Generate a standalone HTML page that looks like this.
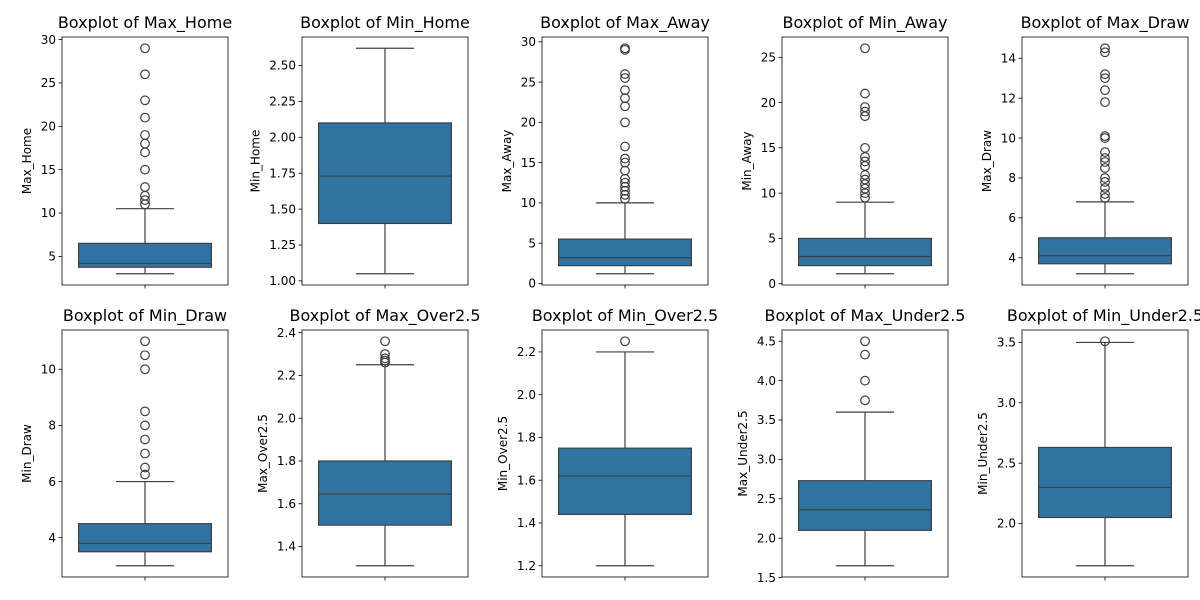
<!DOCTYPE html>
<html><head><meta charset="utf-8">
<style>
body{margin:0;background:#fff;}
svg{display:block;font-family:"DejaVu Sans","Liberation Sans",sans-serif;}
</style></head>
<body>
<svg id="chart" width="1200" height="600" viewBox="0 0 1200 600"></svg>
<script>
const names = ["Max_Home","Min_Home","Max_Away","Min_Away","Max_Draw","Min_Draw","Max_Over2.5","Min_Over2.5","Max_Under2.5","Min_Under2.5"];
const whiskerLow = [3,1.05,1.2,1.1,3.2,3,1.31,1.2,1.65,1.65];
const q1 = [3.75,1.4,2.2,2,3.7,3.5,1.5,1.44,2.1,2.05];
const medians = [4.2,1.73,3.2,3,4.1,3.8,1.645,1.62,2.36,2.3];
const q3 = [6.5,2.1,5.5,5,5,4.5,1.8,1.75,2.73,2.63];
const whiskerHigh = [10.5,2.62,10,9,6.8,6,2.25,2.2,3.6,3.5];
const outliers = [
 [11,11.5,12,13,15,17,18,19,21,23,26,29],
 [],
 [10.5,11,11.5,12,12.5,13,14,15,15.5,17,20,22,23,24,25.5,26,29,29.2],
 [9.5,10,10.5,11,11.5,12,13,13.5,14,15,18.5,19,19.5,21,26],
 [7,7.2,7.5,7.8,8,8.5,8.8,9,9.3,10,10.1,11.8,12.4,13,13.2,14.3,14.5],
 [6.25,6.5,7,7.5,8,8.5,10,10.5,11],
 [2.26,2.27,2.28,2.3,2.36],
 [2.25],
 [3.75,4.0,4.33,4.5],
 [3.51]
];
const ticks = [
 ["5","10","15","20","25","30"],
 ["1.00","1.25","1.50","1.75","2.00","2.25","2.50"],
 ["0","5","10","15","20","25","30"],
 ["0","5","10","15","20","25"],
 ["4","6","8","10","12","14"],
 ["4","6","8","10"],
 ["1.4","1.6","1.8","2.0","2.2","2.4"],
 ["1.2","1.4","1.6","1.8","2.0","2.2"],
 ["1.5","2.0","2.5","3.0","3.5","4.0","4.5"],
 ["2.0","2.5","3.0","3.5"]
];
const NS="http://www.w3.org/2000/svg";
const svg=document.getElementById('chart');
function mk(tag,attrs,parent){const e=document.createElementNS(NS,tag);for(const k in attrs)e.setAttribute(k,attrs[k]);(parent||svg).appendChild(e);return e;}
const EDGE="#3f3f3f";
function tw(s){let w=0;for(const ch of s)w+=(ch==='.'?3.8:7.6);return w;}
names.forEach((nm,i)=>{
  const col=i%5,row=Math.floor(i/5);
  const L=62+col*240,W=166,T=row?330:37,B=row?577:285;
  const all=[whiskerLow[i],whiskerHigh[i]].concat(outliers[i]);
  const lo=Math.min(...all),hi=Math.max(...all),pad=(hi-lo)*0.05;
  const dmin=lo-pad,dmax=hi+pad;
  const y=v=>B-(v-dmin)/(dmax-dmin)*(B-T);
  const g=mk('g',{});
  
  
  const cx=L+W/2;
  const t=mk('text',{x:cx,y:T-9,'text-anchor':'middle','font-size':'16',fill:'#000'},g);
  
  
  t.textContent='Boxplot of '+nm;
  let maxw=0;
  ticks[i].forEach(s=>{
    const v=parseFloat(s),yy=y(v);
    mk('line',{x1:L-3.5,x2:L,y1:yy,y2:yy,stroke:'#000','stroke-width':0.8},g);
    const tl=mk('text',{x:L-6,y:yy+4.2,'text-anchor':'end','font-size':'12',fill:'#000'},g);
    
    
    tl.textContent=s;
    maxw=Math.max(maxw,tw(s));
  });
  mk('line',{x1:cx,x2:cx,y1:B,y2:B+3.5,stroke:'#000','stroke-width':0.8},g);
  const yl=mk('text',{x:0,y:0,'text-anchor':'middle','font-size':'12',fill:'#000',transform:`translate(${L-16-maxw},${(T+B)/2}) rotate(-90)`},g);
  
  
  yl.textContent=nm;
  const bw=W*0.8,cw=W*0.35;
  mk('line',{x1:cx,x2:cx,y1:y(whiskerLow[i]),y2:y(q1[i]),stroke:EDGE,'stroke-width':1.2},g);
  mk('line',{x1:cx,x2:cx,y1:y(q3[i]),y2:y(whiskerHigh[i]),stroke:EDGE,'stroke-width':1.2},g);
  mk('line',{x1:cx-cw/2,x2:cx+cw/2,y1:y(whiskerLow[i]),y2:y(whiskerLow[i]),stroke:EDGE,'stroke-width':1.2},g);
  mk('line',{x1:cx-cw/2,x2:cx+cw/2,y1:y(whiskerHigh[i]),y2:y(whiskerHigh[i]),stroke:EDGE,'stroke-width':1.2},g);
  const box=mk('rect',{x:cx-bw/2,y:y(q3[i]),width:bw,height:y(q1[i])-y(q3[i]),fill:'#3274a1',stroke:EDGE,'stroke-width':1.2},g);
  
  
  mk('line',{x1:cx-bw/2,x2:cx+bw/2,y1:y(medians[i]),y2:y(medians[i]),stroke:EDGE,'stroke-width':1.2},g);
  outliers[i].forEach(v=>{
    const c=mk('circle',{cx:cx,cy:y(v),r:4.3,fill:'none',stroke:EDGE,'stroke-width':1.2},g);
    
    
  });
  mk('rect',{x:L,y:T,width:W,height:B-T,fill:'none',stroke:'#000','stroke-width':0.8},g);
});
</script>
</body></html>
